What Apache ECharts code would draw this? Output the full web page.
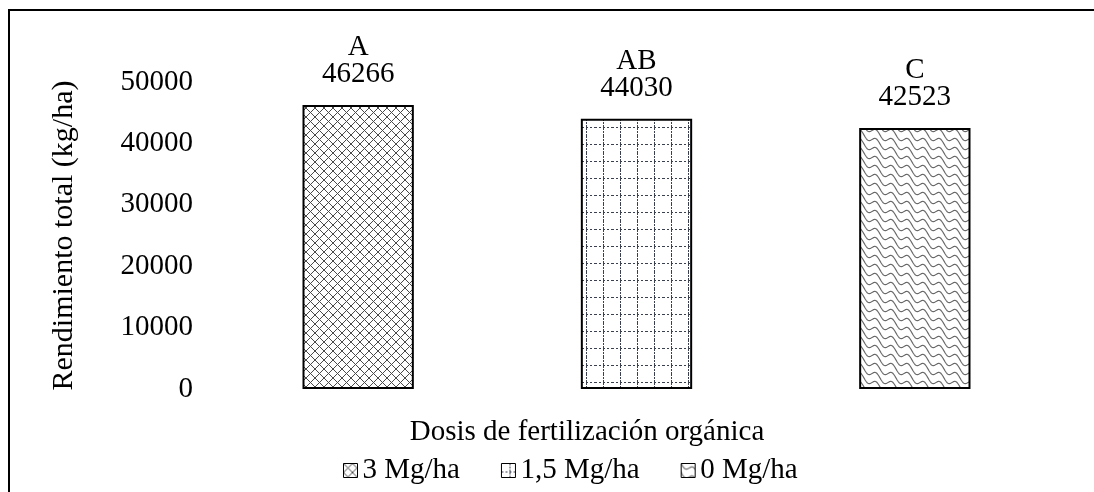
<!DOCTYPE html>
<html>
<head>
<meta charset="utf-8">
<script src="https://cdn.jsdelivr.net/npm/echarts@6/dist/echarts.min.js"></script>
<style>html,body{margin:0;padding:0;background:#fff;}#c{width:1094px;height:492px;}</style>
</head>
<body>
<div id="c"></div>
<script>
var categories = ['3 Mg/ha', '1,5 Mg/ha', '0 Mg/ha'];
var values = [46266, 44030, 42523];
var letters = ['A', 'AB', 'C'];
var yTicks = [0, 10000, 20000, 30000, 40000, 50000];
var yTitle = 'Rendimiento total (kg/ha)';
var xTitle = 'Dosis de fertilización orgánica';

function makeCanvas(w, h) {
  var c = document.createElement('canvas');
  c.width = w; c.height = h;
  var ctx = c.getContext('2d');
  ctx.fillStyle = '#fff';
  ctx.fillRect(0, 0, w, h);
  return [c, ctx];
}
// diamond lattice
function pat1() {
  var r = makeCanvas(9, 9), c = r[0], ctx = r[1];
  ctx.strokeStyle = '#4a4a4a'; ctx.lineWidth = 1;
  ctx.beginPath();
  ctx.moveTo(-1, -1); ctx.lineTo(10, 10);
  ctx.moveTo(-1, 10); ctx.lineTo(10, -1);
  ctx.stroke();
  return c;
}
// dotted grid
function pat2() {
  var r = makeCanvas(17, 17), c = r[0], ctx = r[1];
  ctx.fillStyle = '#3a4050';
  for (var x = 0; x < 17; x += 4) ctx.fillRect(x, 8, 2, 1);
  for (var y = 0; y < 17; y += 3) ctx.fillRect(8, y, 1, 2);
  return c;
}
// wavy diagonal scales
function pat3() {
  var W = 32, H = 18;
  var r = makeCanvas(W, H), c = r[0], ctx = r[1];
  ctx.strokeStyle = '#6a6a6a'; ctx.lineWidth = 1.2;
  var offs = [-H, -H / 2, 0, H / 2, H, 3 * H / 2];
  offs.forEach(function (o) {
    ctx.beginPath();
    for (var x = -2; x <= W + 2; x += 0.5) {
      var y = (H / W) * x + o + 3 * Math.sin(2 * Math.PI * x / 16);
      if (x === -2) ctx.moveTo(x, y); else ctx.lineTo(x, y);
    }
    ctx.stroke();
  });
  return c;
}
var patterns = [pat1(), pat2(), pat3()];

var FONT = 'Liberation Serif';
var series = categories.map(function (name, i) {
  var d = categories.map(function (_, j) { return j === i ? values[j] : '-'; });
  return {
    name: name,
    type: 'bar',
    stack: 'total',
    barWidth: '40%',
    data: d,
    itemStyle: {
      color: { image: patterns[i], repeat: 'repeat' },
      borderColor: '#000',
      borderWidth: 2
    },
    label: {
      show: true,
      position: 'top',
      distance: 17,
      color: '#000',
      fontFamily: FONT,
      fontSize: 29,
      lineHeight: 27,
      align: 'center',
      formatter: function (p) { return letters[p.dataIndex] + '\n' + values[p.dataIndex]; }
    }
  };
});

var chart = echarts.init(document.getElementById('c'), null, { renderer: 'canvas' });
chart.setOption({
  backgroundColor: '#fff',
  animation: false,
  grid: { left: 219, right: 40, top: 82, bottom: 103, containLabel: false },
  xAxis: {
    type: 'category',
    data: categories,
    axisLine: { show: false },
    axisTick: { show: false },
    axisLabel: { show: false }
  },
  yAxis: {
    type: 'value',
    min: 0,
    max: 50000,
    interval: 10000,
    axisLine: { show: false },
    axisTick: { show: false },
    splitLine: { show: false },
    axisLabel: {
      margin: 26, fontFamily: FONT, fontSize: 29, color: '#000',
      formatter: function (v) { return String(v); }
    },
    name: yTitle,
    nameLocation: 'middle',
    nameGap: 140,
    nameTextStyle: { fontFamily: FONT, fontSize: 30, color: '#000' }
  },
  legend: {
    data: categories,
    left: 338,
    top: 451,
    icon: 'rect',
    itemWidth: 14,
    itemHeight: 14,
    itemGap: 41,
    itemStyle: { borderColor: '#000', borderWidth: 1 },
    textStyle: { fontFamily: FONT, fontSize: 29, color: '#000' }
  },
  graphic: [
    { type: 'line', shape: { x1: 8, y1: 10, x2: 1094, y2: 10 }, style: { stroke: '#000', lineWidth: 2 } },
    { type: 'line', shape: { x1: 9, y1: 9, x2: 9, y2: 492 }, style: { stroke: '#000', lineWidth: 2 } },
    { type: 'text', x: 587, y: 432, style: { text: xTitle, fontFamily: FONT, fontSize: 29, fill: '#000', textAlign: 'center', textVerticalAlign: 'middle' } }
  ],
  series: series
});
</script>
</body>
</html>
